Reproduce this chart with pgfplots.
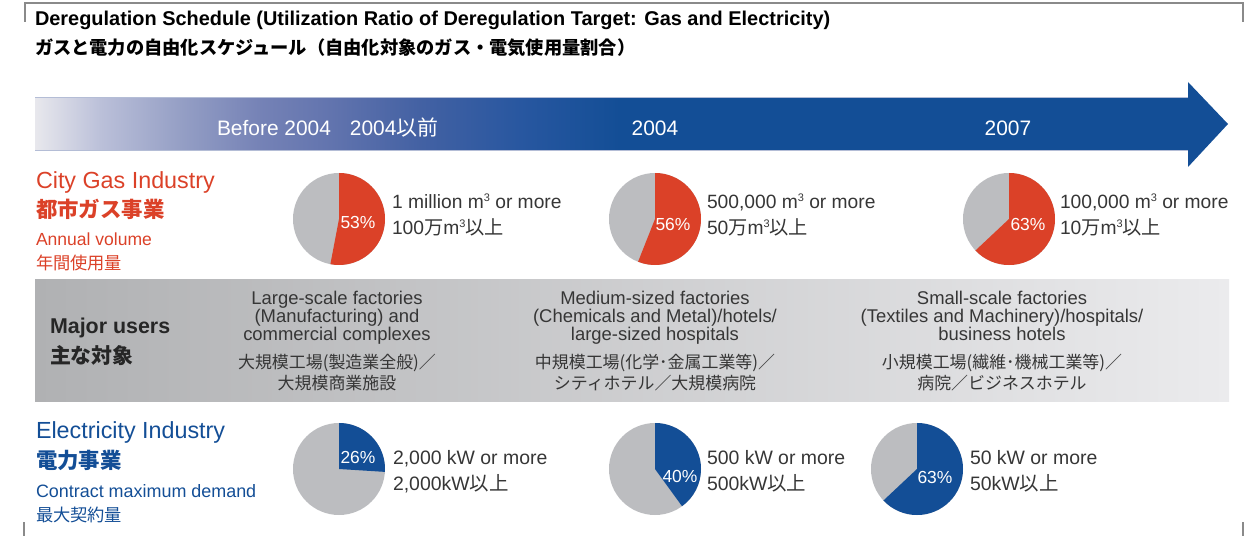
\documentclass[border=0pt]{standalone}
\usepackage{pgfplots}
\pgfplotsset{compat=1.18}
\usepackage{fontspec}
\setmainfont{Liberation Sans}
\newfontfamily\jp{Noto Sans CJK JP}
\definecolor{gasred}{HTML}{DB4128}
\definecolor{elecblue}{HTML}{134E96}
\definecolor{piegray}{HTML}{BCBDC0}
\definecolor{txt}{HTML}{363636}
\definecolor{markgray}{HTML}{8A8A8A}
\definecolor{edge}{HTML}{B4BDD6}
\definecolor{g0}{HTML}{E8E8ED}
\definecolor{g1}{HTML}{BBC0D9}
\definecolor{g2}{HTML}{959FC5}
\definecolor{g3}{HTML}{7582B6}
\definecolor{g4}{HTML}{6274AE}
\definecolor{g5}{HTML}{4361A3}
\definecolor{g6}{HTML}{2857A0}
\definecolor{g7}{HTML}{134E96}
\definecolor{bandL}{HTML}{B0B1B3}
\definecolor{bandR}{HTML}{EBEBED}
\newcommand{\fs}[1]{\fontsize{#1}{#1}\selectfont}
\newcommand{\cub}{\raisebox{0.6ex}{\fontsize{11}{11}\selectfont 3}}
\tikzset{T/.style={inner sep=0pt,outer sep=0pt}}
% pie: cx, cy, share (%), colour
\newcommand{\pie}[4]{%
  \fill[piegray] (axis cs:#1,#2) circle[radius=46bp];
  \fill[#4] (axis cs:#1,#2) -- ++(0,46bp) arc[start angle=90, delta angle=-3.6*#3, radius=46bp] -- cycle;}
\begin{document}
\begin{tikzpicture}
\useasboundingbox (0,0) rectangle (1255bp,536bp);
\begin{axis}[x=1bp,y=1bp,xmin=0,xmax=1255,ymin=0,ymax=536,
  scale only axis,hide axis,clip=false]
% crop marks
\draw[markgray,line width=1.5bp] (axis cs:25,514) -- (axis cs:25,533) -- (axis cs:1243,533) -- (axis cs:1243,514);
\draw[markgray,line width=1.5bp] (axis cs:24,0) -- (axis cs:24,14);
\draw[markgray,line width=1.5bp] (axis cs:1243,0) -- (axis cs:1243,14);
% titles
\node[T,anchor=base west,font=\bfseries\fs{20}] at (axis cs:35,510) {Deregulation Schedule (Utilization Ratio of Deregulation Target: Gas and Electricity)};
\node[T,anchor=base west,font=\jp\bfseries\fs{18.3}] at (axis cs:35,481) {ガスと電力の自由化スケジュール（自由化対象のガス・電気使用量割合）};
% timeline arrow
\fill[g7] (axis cs:560,386) -- (axis cs:1188,386) -- (axis cs:1188,369) -- (axis cs:1228,412) -- (axis cs:1188,454) -- (axis cs:1188,438) -- (axis cs:560,438) -- cycle;
\shade[left color=g0,right color=g1] (axis cs:35,386) rectangle (axis cs:100.5,438);
\shade[left color=g1,right color=g2] (axis cs:100,386) rectangle (axis cs:180.5,438);
\shade[left color=g2,right color=g3] (axis cs:180,386) rectangle (axis cs:260.5,438);
\shade[left color=g3,right color=g4] (axis cs:260,386) rectangle (axis cs:330.5,438);
\shade[left color=g4,right color=g5] (axis cs:330,386) rectangle (axis cs:420.5,438);
\shade[left color=g5,right color=g6] (axis cs:420,386) rectangle (axis cs:520.5,438);
\shade[left color=g6,right color=g7] (axis cs:520,386) rectangle (axis cs:620,438);
\draw[edge,line width=1bp] (axis cs:35,438) -- (axis cs:1188,438);
\draw[edge,line width=0.8bp] (axis cs:35,386) -- (axis cs:1188,386);
\node[T,anchor=base west,text=white,font=\fs{21}] at (axis cs:217,400) {Before 2004\hspace{19bp}2004{\jp 以前}};
\node[T,anchor=base,text=white,font=\fs{21}] at (axis cs:655,400) {2004};
\node[T,anchor=base,text=white,font=\fs{21}] at (axis cs:1008,400) {2007};
% major users band
\shade[left color=bandL,right color=bandR] (axis cs:35,134) rectangle (axis cs:1229,256);
% City gas
\node[T,anchor=base west,text=gasred,font=\fs{23.4}] at (axis cs:36,348) {City Gas Industry};
\node[T,anchor=base west,text=gasred,font=\jp\bfseries\fs{21.5}] at (axis cs:36,319) {都市ガス事業};
\node[T,anchor=base west,text=gasred,font=\fs{17.6}] at (axis cs:36,291) {Annual volume};
\node[T,anchor=base west,text=gasred,font=\jp\fs{17.3}] at (axis cs:36,267) {年間使用量};
\pie{339}{317}{53}{gasred}
\pie{655}{317}{56}{gasred}
\pie{1009}{317}{63}{gasred}
\node[T,text=white,font=\fs{17.5}] at (axis cs:358,314) {53\%};
\node[T,text=white,font=\fs{17.5}] at (axis cs:673,312) {56\%};
\node[T,text=white,font=\fs{17.5}] at (axis cs:1028,312) {63\%};
\node[T,anchor=base west,text=txt,font=\fs{19.3}] at (axis cs:392,328) {1 million m\cub{} or more};
\node[T,anchor=base west,text=txt,font=\fs{19.3}] at (axis cs:392,302) {100{\jp 万}m\cub{\jp 以上}};
\node[T,anchor=base west,text=txt,font=\fs{19.3}] at (axis cs:707,328) {500,000 m\cub{} or more};
\node[T,anchor=base west,text=txt,font=\fs{19.3}] at (axis cs:707,302) {50{\jp 万}m\cub{\jp 以上}};
\node[T,anchor=base west,text=txt,font=\fs{19.3}] at (axis cs:1060,328) {100,000 m\cub{} or more};
\node[T,anchor=base west,text=txt,font=\fs{19.3}] at (axis cs:1060,302) {10{\jp 万}m\cub{\jp 以上}};
% Major users
\node[T,anchor=base west,text=black!85,font=\bfseries\fs{21.5}] at (axis cs:50,203) {Major users};
\node[T,anchor=base west,text=black!85,font=\jp\bfseries\fs{21}] at (axis cs:50,173) {主な対象};
\node[T,anchor=base,text=txt,font=\fs{18.5}] at (axis cs:337,232) {Large-scale factories};
\node[T,anchor=base,text=txt,font=\fs{18.5}] at (axis cs:337,214) {(Manufacturing) and};
\node[T,anchor=base,text=txt,font=\fs{18.5}] at (axis cs:337,196) {commercial complexes};
\node[T,anchor=base,text=txt,font=\jp\fs{17}] at (axis cs:337,168) {大規模工場(製造業全般)／};
\node[T,anchor=base,text=txt,font=\jp\fs{17}] at (axis cs:337,147) {大規模商業施設};
\node[T,anchor=base,text=txt,font=\fs{18.5}] at (axis cs:655,232) {Medium-sized factories};
\node[T,anchor=base,text=txt,font=\fs{18.5}] at (axis cs:655,214) {(Chemicals and Metal)/hotels/};
\node[T,anchor=base,text=txt,font=\fs{18.5}] at (axis cs:655,196) {large-sized hospitals};
\node[T,anchor=base,text=txt,font=\jp\fs{17}] at (axis cs:655,168) {中規模工場(化学･金属工業等)／};
\node[T,anchor=base,text=txt,font=\jp\fs{17}] at (axis cs:655,147) {シティホテル／大規模病院};
\node[T,anchor=base,text=txt,font=\fs{18.5}] at (axis cs:1002,232) {Small-scale factories};
\node[T,anchor=base,text=txt,font=\fs{18.5}] at (axis cs:1002,214) {(Textiles and Machinery)/hospitals/};
\node[T,anchor=base,text=txt,font=\fs{18.5}] at (axis cs:1002,196) {business hotels};
\node[T,anchor=base,text=txt,font=\jp\fs{17}] at (axis cs:1002,168) {小規模工場(繊維･機械工業等)／};
\node[T,anchor=base,text=txt,font=\jp\fs{17}] at (axis cs:1002,147) {病院／ビジネスホテル};
% Electricity
\node[T,anchor=base west,text=elecblue,font=\fs{23.4}] at (axis cs:36,98) {Electricity Industry};
\node[T,anchor=base west,text=elecblue,font=\jp\bfseries\fs{21.5}] at (axis cs:36,68) {電力事業};
\node[T,anchor=base west,text=elecblue,font=\fs{18}] at (axis cs:36,39) {Contract maximum demand};
\node[T,anchor=base west,text=elecblue,font=\jp\fs{17.3}] at (axis cs:36,15) {最大契約量};
\pie{339}{67}{26}{elecblue}
\pie{655}{67}{40}{elecblue}
\pie{917}{67}{63}{elecblue}
\node[T,text=white,font=\fs{17.5}] at (axis cs:358,79) {26\%};
\node[T,text=white,font=\fs{17.5}] at (axis cs:680,60) {40\%};
\node[T,text=white,font=\fs{17.5}] at (axis cs:935,59) {63\%};
\node[T,anchor=base west,text=txt,font=\fs{19.5}] at (axis cs:393,72) {2,000 kW or more};
\node[T,anchor=base west,text=txt,font=\fs{19.5}] at (axis cs:393,46) {2,000kW{\jp 以上}};
\node[T,anchor=base west,text=txt,font=\fs{19.5}] at (axis cs:707,72) {500 kW or more};
\node[T,anchor=base west,text=txt,font=\fs{19.5}] at (axis cs:707,46) {500kW{\jp 以上}};
\node[T,anchor=base west,text=txt,font=\fs{19.5}] at (axis cs:970,72) {50 kW or more};
\node[T,anchor=base west,text=txt,font=\fs{19.5}] at (axis cs:970,46) {50kW{\jp 以上}};
\end{axis}
\end{tikzpicture}
\end{document}
